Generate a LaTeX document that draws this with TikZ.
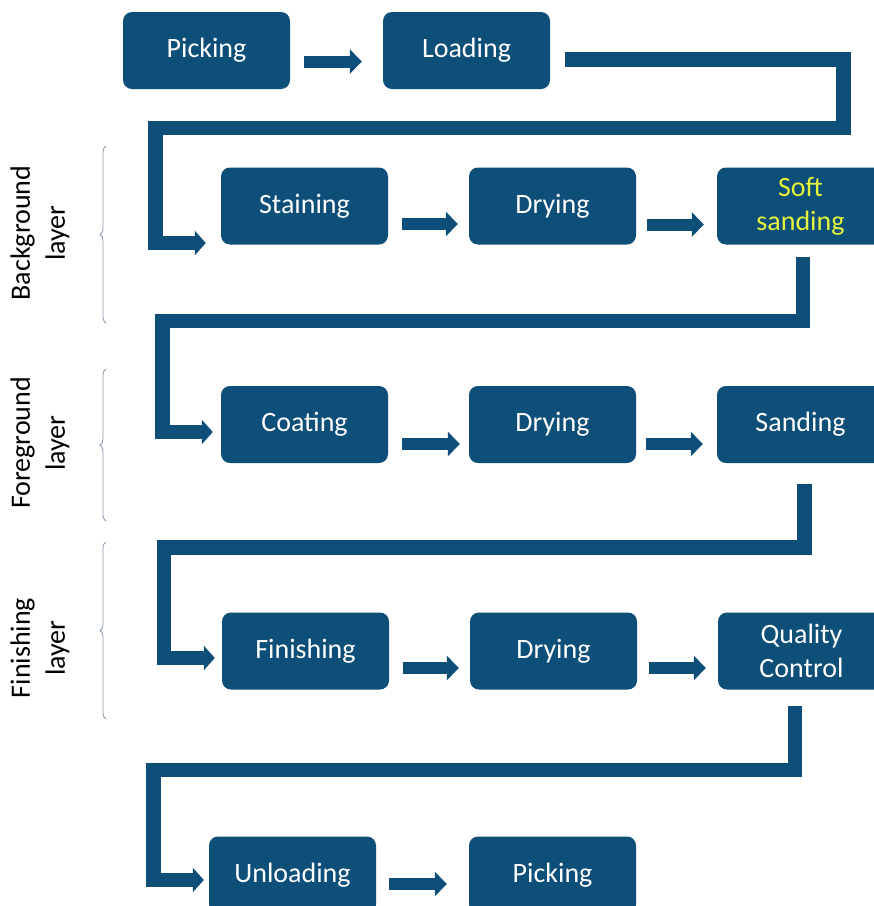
\documentclass[tikz,border=0pt]{standalone}
\usepackage{fontspec}
\setmainfont{Carlito}
\usetikzlibrary{arrows.meta,decorations.pathreplacing}
\definecolor{boxblue}{HTML}{0E4F79}
\definecolor{softyellow}{RGB}{228,244,58}
\definecolor{bracegray}{HTML}{8A9AAA}
\begin{document}
\begin{tikzpicture}[x=1pt,y=-1pt,
  stepbox/.style={fill=boxblue, rounded corners=9pt, minimum width=167pt,
    minimum height=77pt, text=white, font=\fontsize{28}{34}\selectfont,
    align=center, inner sep=0pt},
  sidelabel/.style={rotate=90, align=center, text=black,
    font=\fontsize{28}{35}\selectfont},
  sarrow/.style={draw=boxblue, line width=12pt,
    -{Triangle[length=12pt,width=24pt]}},
  elbow/.style={draw=boxblue, line width=14.5pt, line join=miter,
    -{Triangle[length=11pt,width=24pt]}},
  bracestyle/.style={draw=bracegray, line width=0.8pt, decorate,
    decoration={brace, amplitude=6pt}}]
\useasboundingbox (0,0) rectangle (874,906);
\clip (0,0) rectangle (874,906);
\fill[white] (0,0) rectangle (874,906);

% boxes
\node[stepbox] (pick1) at (206.5,50.5) {Picking};
\node[stepbox] (loading) at (466.5,50.5) {Loading};
\node[stepbox] (staining) at (304.5,206) {Staining};
\node[stepbox] (drying1) at (552.5,206) {Drying};
\node[stepbox, text=softyellow] (soft) at (800.5,206) {Soft\\sanding};
\node[stepbox] (coating) at (304.5,424.5) {Coating};
\node[stepbox] (drying2) at (552.5,424.5) {Drying};
\node[stepbox] (sanding) at (800.5,424.5) {Sanding};
\node[stepbox] (finishing) at (305.5,651) {Finishing};
\node[stepbox] (drying3) at (553.5,651) {Drying};
\node[stepbox] (qc) at (801.5,651) {Quality\\Control};
\node[stepbox] (unloading) at (292.5,875) {Unloading};
\node[stepbox] (pick2) at (552.5,875) {Picking};

% short arrows
\draw[sarrow] ([shift={(14,11)}]pick1.east) -- ([shift={(-21,11)}]loading.west);
\draw[sarrow] ([shift={(14,18)}]staining.east) -- ([shift={(-11,18)}]drying1.west);
\draw[sarrow] ([shift={(11,18.5)}]drying1.east) -- ([shift={(-13,18.5)}]soft.west);
\draw[sarrow] ([shift={(14,19.5)}]coating.east) -- ([shift={(-9,19.5)}]drying2.west);
\draw[sarrow] ([shift={(10,19.5)}]drying2.east) -- ([shift={(-14,19.5)}]sanding.west);
\draw[sarrow] ([shift={(14,17)}]finishing.east) -- ([shift={(-11,17)}]drying3.west);
\draw[sarrow] ([shift={(12,17)}]drying3.east) -- ([shift={(-12,17)}]qc.west);
\draw[sarrow] ([shift={(13,9)}]unloading.east) -- ([shift={(-22,9)}]pick2.west);

% elbow connectors
\coordinate (e1a) at (843.5,128);
\coordinate (e1b) at (155.5,128);
\draw[elbow] ([shift={(15,9)}]loading.east) -| (e1a) -- (e1b) |- ([shift={(-15,37)}]staining.west);
\coordinate (e2a) at (803,321);
\coordinate (e2b) at (162.5,321);
\draw[elbow] ([shift={(2.5,12)}]soft.south) -- (e2a) -- (e2b) |- ([shift={(-8,7.5)}]coating.west);
\coordinate (e3a) at (804.5,547.5);
\coordinate (e3b) at (164,547.5);
\draw[elbow] ([shift={(4,21)}]sanding.south) -- (e3a) -- (e3b) |- ([shift={(-7,7)}]finishing.west);
\coordinate (e4a) at (795,770);
\coordinate (e4b) at (153.5,770);
\draw[elbow] ([shift={(-6.5,16)}]qc.south) -- (e4a) -- (e4b) |- ([shift={(-5,5)}]unloading.west);

% side labels
\node[sidelabel] (labbg) at (40,233) {Background\\layer};
\node[sidelabel] (labfg) at (40,443) {Foreground\\layer};
\node[sidelabel] (labfin) at (40,648) {Finishing\\layer};

% braces
\draw[bracestyle] (106,323) -- (106,146);
\draw[bracestyle] (106,521) -- (106,369);
\draw[bracestyle] (106,719) -- (106,542);
\end{tikzpicture}
\end{document}
